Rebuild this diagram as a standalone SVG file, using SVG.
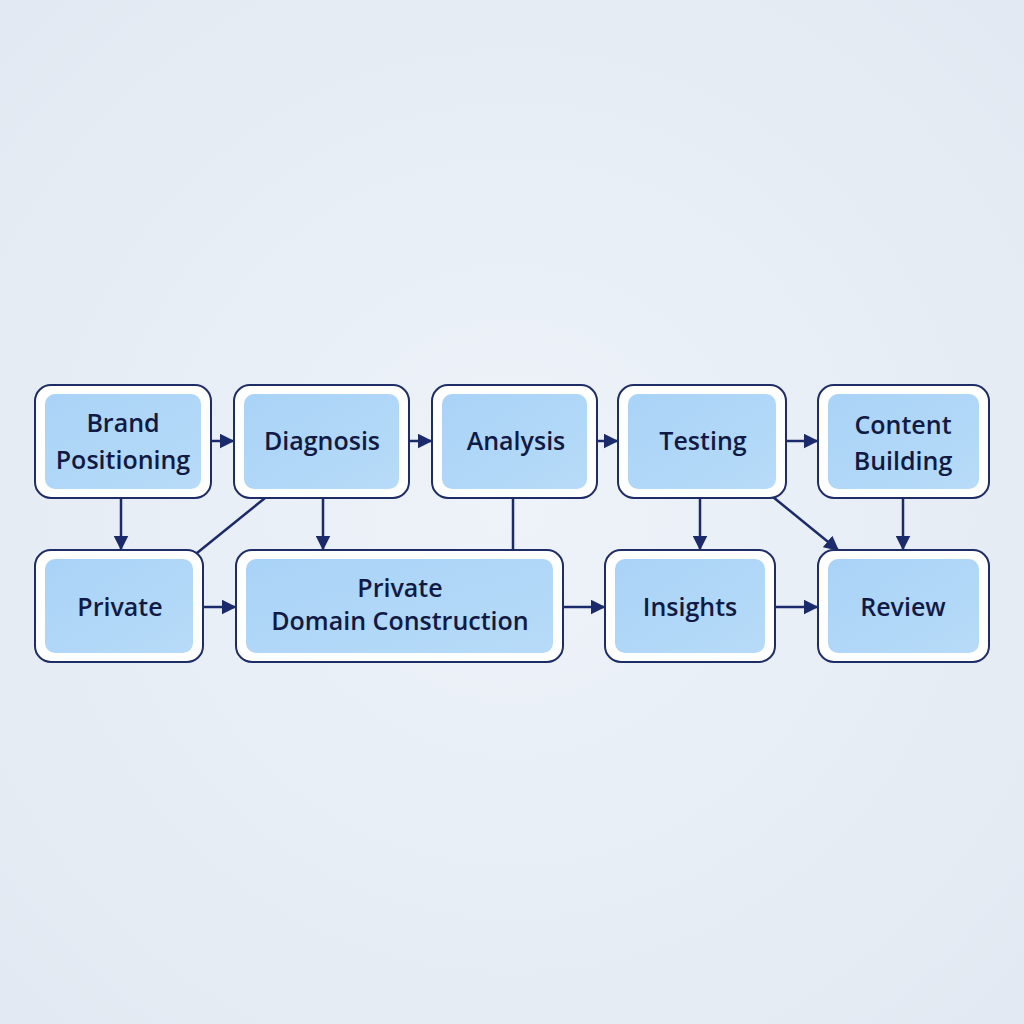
<svg xmlns="http://www.w3.org/2000/svg" width="1024" height="1024" viewBox="0 0 1024 1024">
<defs>
<radialGradient id="bg" cx="50%" cy="50%" r="70%"><stop offset="0" stop-color="#eef3f9"/><stop offset="1" stop-color="#e2e9f2"/></radialGradient>
<linearGradient id="fill" x1="0" y1="0" x2="1" y2="1"><stop offset="0" stop-color="#a9d3f7"/><stop offset="1" stop-color="#b7dbf8"/></linearGradient>
<marker id="ah" viewBox="0 0 10 10" refX="9" refY="5" markerWidth="6" markerHeight="6" orient="auto"><path d="M0,0 L10,5 L0,10 z" fill="#1b2a6b"/></marker>
</defs>
<style>
.o{fill:#fff;stroke:#1e2d66;stroke-width:2}
.i{fill:url(#fill)}
.t{font-family:"Open Sans","Liberation Sans",sans-serif;font-size:25px;font-weight:600;fill:#111a44;text-anchor:middle}
.c{stroke:#1b2a6b;stroke-width:2.5;fill:none}
</style>
<rect width="1024" height="1024" fill="url(#bg)"/>
<g id="connectors">
<line class="c" x1="211" y1="441" x2="233" y2="441" marker-end="url(#ah)"/>
<line class="c" x1="409" y1="441" x2="431" y2="441" marker-end="url(#ah)"/>
<line class="c" x1="597" y1="441" x2="617" y2="441" marker-end="url(#ah)"/>
<line class="c" x1="786" y1="441" x2="817" y2="441" marker-end="url(#ah)"/>
<line class="c" x1="121" y1="498" x2="121" y2="549" marker-end="url(#ah)"/>
<line class="c" x1="323" y1="498" x2="323" y2="549" marker-end="url(#ah)"/>
<line class="c" x1="265" y1="498" x2="197" y2="553"/>
<line class="c" x1="513" y1="498" x2="513" y2="550"/>
<line class="c" x1="700" y1="498" x2="700" y2="549" marker-end="url(#ah)"/>
<line class="c" x1="773" y1="497" x2="838" y2="550" marker-end="url(#ah)"/>
<line class="c" x1="903" y1="498" x2="903" y2="549" marker-end="url(#ah)"/>
<line class="c" x1="203" y1="607" x2="235" y2="607" marker-end="url(#ah)"/>
<line class="c" x1="563" y1="607" x2="604" y2="607" marker-end="url(#ah)"/>
<line class="c" x1="775" y1="607" x2="817" y2="607" marker-end="url(#ah)"/>
</g>
<g id="n1"><rect class="o" x="35" y="385" width="176" height="113" rx="16"/><rect class="i" x="45" y="394" width="156" height="95" rx="10"/><text class="t" x="123" y="432">Brand</text><text class="t" x="123" y="469">Positioning</text></g>
<g id="n2"><rect class="o" x="234" y="385" width="175" height="113" rx="16"/><rect class="i" x="244" y="394" width="155" height="95" rx="10"/><text class="t" x="322" y="450">Diagnosis</text></g>
<g id="n3"><rect class="o" x="432" y="385" width="165" height="113" rx="16"/><rect class="i" x="442" y="394" width="145" height="95" rx="10"/><text class="t" x="516" y="450">Analysis</text></g>
<g id="n4"><rect class="o" x="618" y="385" width="168" height="113" rx="16"/><rect class="i" x="628" y="394" width="148" height="95" rx="10"/><text class="t" x="703" y="450">Testing</text></g>
<g id="n5"><rect class="o" x="818" y="385" width="171" height="113" rx="16"/><rect class="i" x="828" y="394" width="151" height="95" rx="10"/><text class="t" x="903" y="434">Content</text><text class="t" x="903" y="470">Building</text></g>
<g id="n6"><rect class="o" x="35" y="550" width="168" height="112" rx="16"/><rect class="i" x="45" y="559" width="148" height="94" rx="10"/><text class="t" x="120" y="616">Private</text></g>
<g id="n7"><rect class="o" x="236" y="550" width="327" height="112" rx="16"/><rect class="i" x="246" y="559" width="307" height="94" rx="10"/><text class="t" x="400" y="597">Private</text><text class="t" x="400" y="630">Domain Construction</text></g>
<g id="n8"><rect class="o" x="605" y="550" width="170" height="112" rx="16"/><rect class="i" x="615" y="559" width="150" height="94" rx="10"/><text class="t" x="690" y="616">Insights</text></g>
<g id="n9"><rect class="o" x="818" y="550" width="171" height="112" rx="16"/><rect class="i" x="828" y="559" width="151" height="94" rx="10"/><text class="t" x="903" y="616">Review</text></g>
</svg>
